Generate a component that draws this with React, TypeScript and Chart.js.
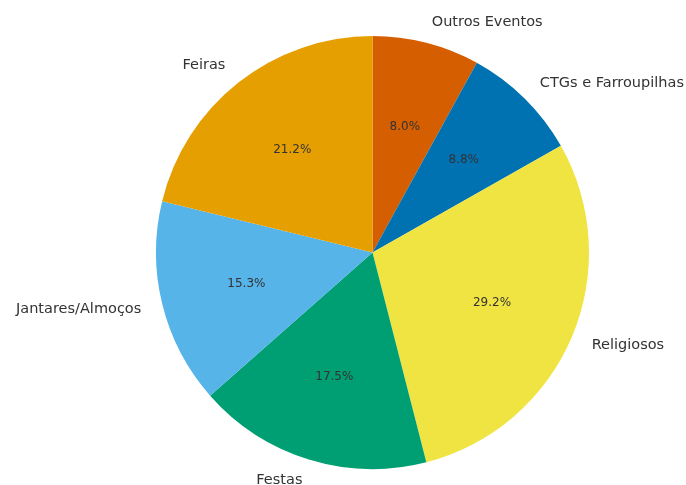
import React, { useEffect, useRef } from "react";
import { Chart, registerables } from "chart.js";
Chart.register(...registerables);

const categories = ["Outros Eventos", "CTGs e Farroupilhas", "Religiosos", "Festas", "Jantares/Almoços", "Feiras"];
const values = [8.0, 8.8, 29.2, 17.5, 15.3, 21.2];
const colors = ["#D55E00", "#0072B2", "#F0E442", "#009E73", "#56B4E9", "#E69F00"];

const labelPlugin = {
  id: "pieLabels",
  afterDatasetsDraw(chart: any) {
    const ctx = chart.ctx;
    const meta = chart.getDatasetMeta(0);
    const total = values.reduce((a, b) => a + b, 0);
    ctx.save();
    meta.data.forEach((arc: any, i: number) => {
      const { x, y, startAngle, endAngle, outerRadius } = arc.getProps(["x", "y", "startAngle", "endAngle", "outerRadius"], true);
      const mid = (startAngle + endAngle) / 2;
      const cx = Math.cos(mid), cy = Math.sin(mid);
      // outer label
      ctx.font = "14.5px 'DejaVu Sans'";
      ctx.fillStyle = "#333333";
      ctx.textBaseline = "middle";
      ctx.textAlign = cx > 0 ? "left" : "right";
      ctx.fillText(categories[i], x + cx * outerRadius * 1.1, y + cy * outerRadius * 1.1);
      // percent
      ctx.font = "12px 'DejaVu Sans'";
      ctx.textAlign = "center";
      const pct = ((values[i] / total) * 100).toFixed(1) + "%";
      ctx.fillText(pct, x + cx * outerRadius * 0.6, y + cy * outerRadius * 0.6);
    });
    ctx.restore();
  },
};

export default function App() {
  const ref = useRef<HTMLCanvasElement>(null);
  useEffect(() => {
    document.body.style.margin = "0";
    const chart = new Chart(ref.current!, {
      type: "pie",
      data: {
        labels: categories,
        datasets: [{ data: values, backgroundColor: colors, borderWidth: 0 }],
      },
      options: {
        animation: false,
        responsive: false,
        layout: { padding: { left: 156, right: 97, top: 36, bottom: 16 } },
        plugins: { legend: { display: false }, tooltip: { enabled: false } },
      },
      plugins: [labelPlugin],
    });
    return () => chart.destroy();
  }, []);
  return <canvas ref={ref} width={686} height={485} style={{ display: "block" }} />;
}
